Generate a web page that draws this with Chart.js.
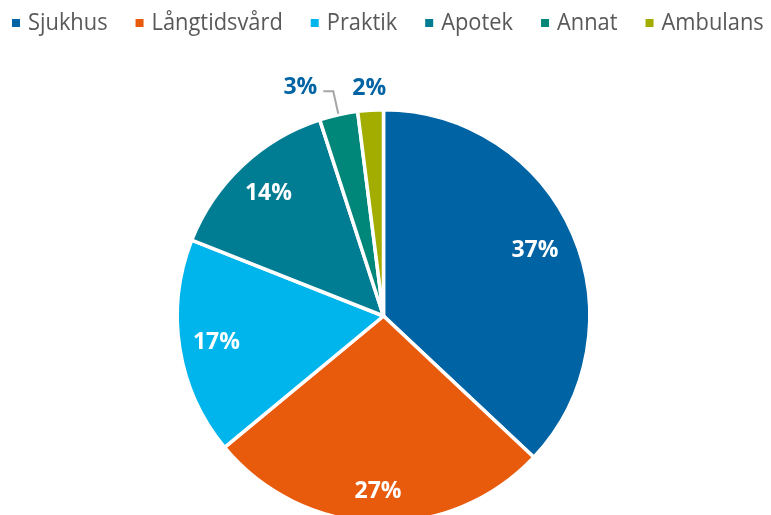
<!DOCTYPE html>
<html lang="sv">
<head>
  <meta charset="UTF-8">
  <title>Fördelning</title>
  <script src="https://cdn.jsdelivr.net/npm/chart.js"></script>
  <style>
    html, body {
      margin: 0;
      padding: 0;
      background: #fff;
      overflow: hidden;
    }
    .wrap {
      position: absolute;
      left: 0;
      top: 0;
      width: 771px;
      height: 540px;
    }
  </style>
</head>
<body>
  <div class="wrap">
    <canvas id="pie" width="771" height="540"></canvas>
  </div>

  <script>
    const categories = ["Sjukhus", "Långtidsvård", "Praktik", "Apotek", "Annat", "Ambulans"];
    const shares = [37, 27, 17, 14, 3, 2];
    const colors = ["#0063a3", "#e95b0c", "#00b5eb", "#007c93", "#00877a", "#a3ad00"];

    const FONT = "'Open Sans', sans-serif";
    // the source font is narrower than Open Sans, squeeze legend text a bit
    const SQUEEZE = 0.91;

    const topLegend = {
      id: 'topLegend',
      afterDraw(chart) {
        const ctx = chart.ctx;
        ctx.save();
        ctx.font = "24px " + FONT;
        ctx.textBaseline = 'middle';
        ctx.textAlign = 'left';
        let x = 12;
        const y = 23;
        categories.forEach((name, i) => {
          ctx.fillStyle = colors[i];
          ctx.fillRect(x, y - 4, 8, 8);
          x += 16;
          ctx.save();
          ctx.translate(x, y);
          ctx.scale(SQUEEZE, 1);
          ctx.fillStyle = '#595959';
          ctx.fillText(name, 0, 0);
          ctx.restore();
          x += ctx.measureText(name).width * SQUEEZE + 28;
        });
        ctx.restore();
      }
    };

    // label distance from the centre, as a share of the radius
    const labelRadius = [0.80, 0.85, 0.82, 0.815];

    const sliceLabels = {
      id: 'sliceLabels',
      afterDatasetsDraw(chart) {
        const ctx = chart.ctx;
        const arcs = chart.getDatasetMeta(0).data;
        ctx.save();
        ctx.font = "bold 23px " + FONT;
        ctx.textBaseline = 'middle';
        ctx.textAlign = 'center';
        arcs.forEach((arc, i) => {
          const p = arc.getProps(['x', 'y', 'startAngle', 'endAngle', 'outerRadius'], true);
          const mid = (p.startAngle + p.endAngle) / 2;
          const txt = shares[i] + '%';
          if (i < 4) {
            const r = p.outerRadius * labelRadius[i];
            ctx.fillStyle = '#fff';
            ctx.fillText(txt, p.x + Math.cos(mid) * r, p.y + Math.sin(mid) * r);
          } else if (i === 4) {
            const x0 = p.x + Math.cos(mid) * (p.outerRadius + 1);
            const y0 = p.y + Math.sin(mid) * (p.outerRadius + 1);
            const x1 = p.x + Math.cos(mid) * (p.outerRadius + 24);
            const y1 = p.y + Math.sin(mid) * (p.outerRadius + 24);
            ctx.strokeStyle = '#a6a6a6';
            ctx.lineWidth = 2;
            ctx.beginPath();
            ctx.moveTo(x0, y0);
            ctx.lineTo(x1, y1);
            ctx.lineTo(x1 - 10, y1);
            ctx.stroke();
            ctx.fillStyle = '#0063a3';
            ctx.textAlign = 'right';
            ctx.fillText(txt, x1 - 16, y1 - 4);
          } else {
            const r = p.outerRadius + 22;
            ctx.fillStyle = '#0063a3';
            ctx.textAlign = 'center';
            ctx.fillText(txt, p.x + Math.cos(mid) * r, p.y + Math.sin(mid) * r);
          }
        });
        ctx.restore();
      }
    };

    new Chart(document.getElementById('pie'), {
      type: 'pie',
      data: {
        labels: categories,
        datasets: [{
          data: shares,
          backgroundColor: colors,
          borderColor: '#fff',
          borderWidth: 3.5
        }]
      },
      options: {
        responsive: false,
        animation: false,
        layout: { padding: { top: 108, bottom: 16, left: 0, right: 4 } },
        plugins: {
          legend: { display: false },
          tooltip: { enabled: false }
        }
      },
      plugins: [topLegend, sliceLabels]
    });
  </script>
</body>
</html>
